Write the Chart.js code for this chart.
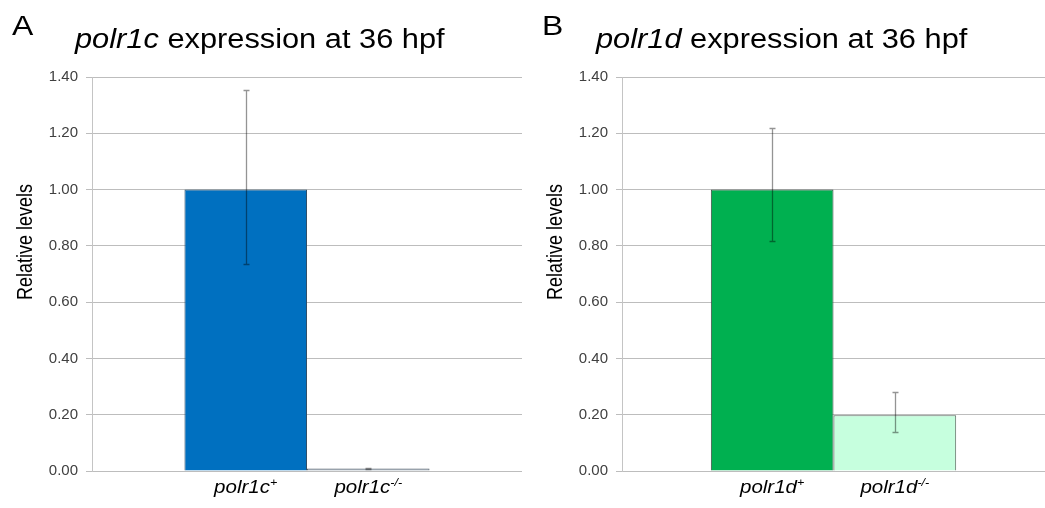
<!DOCTYPE html>
<html>
<head>
<meta charset="utf-8">
<script src="https://cdn.jsdelivr.net/npm/chart.js"></script>
<style>
  body { margin: 0; background: #fff; width: 1045px; height: 508px; position: relative; overflow: hidden; }
  canvas { position: absolute; top: 0; }
</style>
</head>
<body>
<canvas id="chartA" width="522" height="508" style="left:0"></canvas>
<canvas id="chartB" width="515" height="508" style="left:530px"></canvas>
<script>
// one group per panel, two genotypes side by side
const groups = ['36 hpf'];
const yTicks = [0, 0.2, 0.4, 0.6, 0.8, 1.0, 1.2, 1.4];

// panel A : polr1c
const genesA = ['polr1c', 'polr1c'];
const supA = ['+', '-/-'];
const valuesA = [1.00, 0.009];
const upperA = [1.354, 0.012];
const lowerA = [0.737, 0.006];

// panel B : polr1d
const genesB = ['polr1d', 'polr1d'];
const supB = ['+', '-/-'];
const valuesB = [1.00, 0.198];
const upperB = [1.218, 0.281];
const lowerB = [0.817, 0.137];

const FONT = "'Liberation Sans', Arial, sans-serif";
const STRETCH = 1.14; // the figure text is a bit wide

// texte en plus : lettre, titre, titre Y, étiquettes X, barres d'erreur
const extras = {
    id: 'extras',
    afterDatasetsDraw(chart, args, o) {
        const ctx = chart.ctx;
        const y = chart.scales.y;
        ctx.save();
        ctx.strokeStyle = 'rgba(0,0,0,0.42)';
        ctx.lineWidth = 1.3;
        chart.data.datasets.forEach((ds, i) => {
            const bar = chart.getDatasetMeta(i).data[0];
            const x = Math.round(bar.x) + 0.5;
            const top = Math.round(y.getPixelForValue(o.upper[i])) + 0.5;
            const bot = Math.round(y.getPixelForValue(o.lower[i])) + 0.5;
            ctx.beginPath();
            ctx.moveTo(x, top); ctx.lineTo(x, bot);
            ctx.moveTo(x - 3, top); ctx.lineTo(x + 3, top);
            ctx.moveTo(x - 3, bot); ctx.lineTo(x + 3, bot);
            ctx.stroke();
        });
        ctx.restore();
    },
    afterDraw(chart, args, o) {
        const ctx = chart.ctx;
        const area = chart.chartArea;
        ctx.save();
        ctx.fillStyle = '#000';
        ctx.textBaseline = 'alphabetic';
        ctx.textAlign = 'left';

        // panel letter
        ctx.save();
        ctx.translate(o.letterX, 35);
        ctx.scale(STRETCH, 1);
        ctx.font = '28px ' + FONT;
        ctx.fillText(o.letter, 0, 0);
        ctx.restore();

        // title, gene name in italics
        ctx.save();
        ctx.translate(o.titleX, 48);
        ctx.scale(STRETCH, 1);
        ctx.font = 'italic 27px ' + FONT;
        ctx.fillText(o.gene, 0, 0);
        const w = ctx.measureText(o.gene).width;
        ctx.font = '27px ' + FONT;
        ctx.fillText(' expression at 36 hpf', w, 0);
        ctx.restore();

        // y title
        ctx.save();
        ctx.translate(26, 242);
        ctx.scale(1.2, 1);
        ctx.rotate(-Math.PI / 2);
        ctx.textAlign = 'center';
        ctx.textBaseline = 'middle';
        ctx.font = '18px ' + FONT;
        ctx.fillText('Relative levels', 0, 0);
        ctx.restore();

        // x labels under each bar, with superscript genotype
        chart.data.datasets.forEach((ds, i) => {
            const bar = chart.getDatasetMeta(i).data[0];
            ctx.save();
            ctx.font = 'italic 18px ' + FONT;
            const w1 = ctx.measureText(o.genes[i]).width;
            ctx.font = 'italic 11px ' + FONT;
            const w2 = ctx.measureText(o.sups[i]).width;
            ctx.translate(bar.x - (w1 + w2) * STRETCH / 2, area.bottom + 22);
            ctx.scale(STRETCH, 1);
            ctx.font = 'italic 18px ' + FONT;
            ctx.fillText(o.genes[i], 0, 0);
            ctx.font = 'italic 11px ' + FONT;
            ctx.fillText(o.sups[i], w1, -7);
            ctx.restore();
        });
        ctx.restore();
    }
};

function makeChart(id, values, colors, borders, catPct, opts) {
    const ctx = document.getElementById(id).getContext('2d');
    return new Chart(ctx, {
        type: 'bar',
        data: {
            labels: groups,
            datasets: values.map((v, i) => ({
                label: opts.genes[i] + opts.sups[i],
                data: [v],
                backgroundColor: colors[i],
                borderColor: borders[i],
                borderWidth: 1,
                barPercentage: 1,
                categoryPercentage: catPct
            }))
        },
        options: {
            responsive: false,
            animation: false,
            layout: { padding: { left: 0, right: 0, top: 77, bottom: 37 } },
            plugins: {
                legend: { display: false },
                tooltip: { enabled: false },
                extras: opts
            },
            scales: {
                x: { display: false },
                y: {
                    min: 0,
                    max: 1.4,
                    afterBuildTicks: axis => { axis.ticks = yTicks.map(v => ({ value: v })); },
                    afterFit: axis => { axis.width = 92; },
                    grid: { color: '#bdbdbd', tickLength: 6, lineWidth: 1 },
                    border: { color: '#c4c4c4' },
                    ticks: {
                        padding: 8,
                        color: '#404040',
                        font: { family: FONT, size: 15 },
                        callback: v => Number(v).toFixed(2)
                    }
                }
            }
        },
        plugins: [extras]
    });
}

makeChart('chartA', valuesA, ['#0070C0', '#8796A3'], ['#2f4f6a', '#56626c'], 0.57,
    { letter: 'A', letterX: 12, titleX: 75, gene: 'polr1c', genes: genesA, sups: supA, upper: upperA, lower: lowerA });
makeChart('chartB', valuesB, ['#00B050', '#C6FFDE'], ['#3a4a40', '#5a6a60'], 0.58,
    { letter: 'B', letterX: 12, titleX: 66, gene: 'polr1d', genes: genesB, sups: supB, upper: upperB, lower: lowerB });
</script>
</body>
</html>
